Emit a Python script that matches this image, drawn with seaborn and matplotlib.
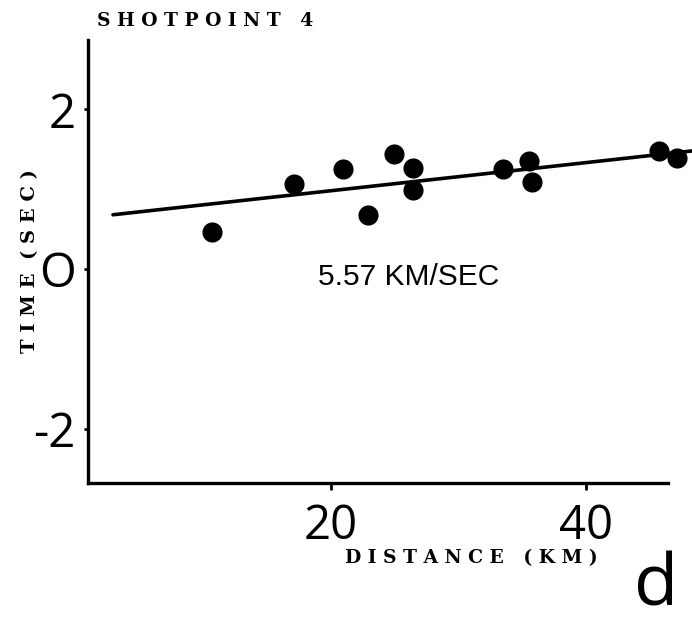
import matplotlib
matplotlib.use("Agg")
import matplotlib.pyplot as plt
import seaborn as sns
import pandas as pd

# ---- data ----
distance_km = [10.7, 17.1, 20.9, 22.9, 24.9, 26.4, 26.4, 33.5, 35.5, 35.8, 45.7, 47.1]
time_sec = [0.46, 1.07, 1.25, 0.68, 1.44, 1.27, 0.99, 1.25, 1.35, 1.09, 1.48, 1.39]
fit_x = [2.9, 48.3]
fit_y = [0.68, 1.48]
x_ticks = [20, 40]
x_tick_labels = ["20", "40"]
y_ticks = [-2, 0, 2]
y_tick_labels = ["-2", "O", "2"]
title = "S H O T P O I N T   4"
x_label = "D I S T A N C E   ( K M )"
y_label = "T I M E  ( S E C )"
velocity_note = "5.57 KM/SEC"
panel_letter = "d"

pts = pd.DataFrame({"distance": distance_km, "time": time_sec})
fit = pd.DataFrame({"distance": fit_x, "time": fit_y})

sns.set_style("ticks")
plt.rcParams["font.family"] = ["DejaVu Sans"]

fig = plt.figure(figsize=(6.92, 6.23), dpi=100)
ax = fig.add_axes([88 / 692, 140 / 623, 604 / 692, 443 / 623])

sns.lineplot(data=fit, x="distance", y="time", ax=ax, color="black",
             linewidth=2.6, clip_on=False)
sns.scatterplot(data=pts, x="distance", y="time", ax=ax, color="black",
                s=210, edgecolor="black", linewidth=0, zorder=3, clip_on=False)

ax.set_xlim(0.94, 48.31)
ax.set_ylim(-2.683, 2.871)

sns.despine(ax=ax)
for side in ("left", "bottom"):
    ax.spines[side].set_linewidth(2.4)
    ax.spines[side].set_color("black")
ax.spines["bottom"].set_bounds(0.94, 46.4)

tick_font = dict(family="Open Sans", weight="normal", size=34)
ax.set_xticks(x_ticks)
ax.set_xticklabels(x_tick_labels, fontdict=tick_font)
ax.set_yticks(y_ticks)
ax.set_yticklabels(y_tick_labels, fontdict=tick_font)
ax.tick_params(axis="x", direction="out", length=5, width=2, pad=9, colors="black")
ax.tick_params(axis="y", direction="out", length=3, width=2, pad=6, colors="black")

label_font = dict(family="DejaVu Serif", weight="bold", size=13.5, color="black")
ax.set_xlabel(x_label, **label_font)
ax.xaxis.set_label_coords((471 - 88) / 604, (483 - 558) / 443)
ax.xaxis.label.set_va("center")
ylabel_font = dict(label_font, size=14)
ax.set_ylabel(y_label, **ylabel_font)
ax.yaxis.set_label_coords((30 - 88) / 604, (483 - 261) / 443)
ax.yaxis.label.set_va("center")

ax.set_title(title, loc="left", x=(97 - 88) / 604, y=(483 - 21) / 443, pad=0,
             va="center", fontfamily="DejaVu Serif", fontweight="bold",
             fontsize=13.5, color="black")

ax.text(26.1, -0.10, velocity_note, ha="center", va="center",
        fontsize=21.5, family="Liberation Sans", color="black")

fig.text(656 / 692, 1 - 587 / 623, panel_letter, ha="center", va="center",
         fontsize=52, family="Open Sans", weight="normal", color="black")

fig.savefig("out.png", dpi=100)
